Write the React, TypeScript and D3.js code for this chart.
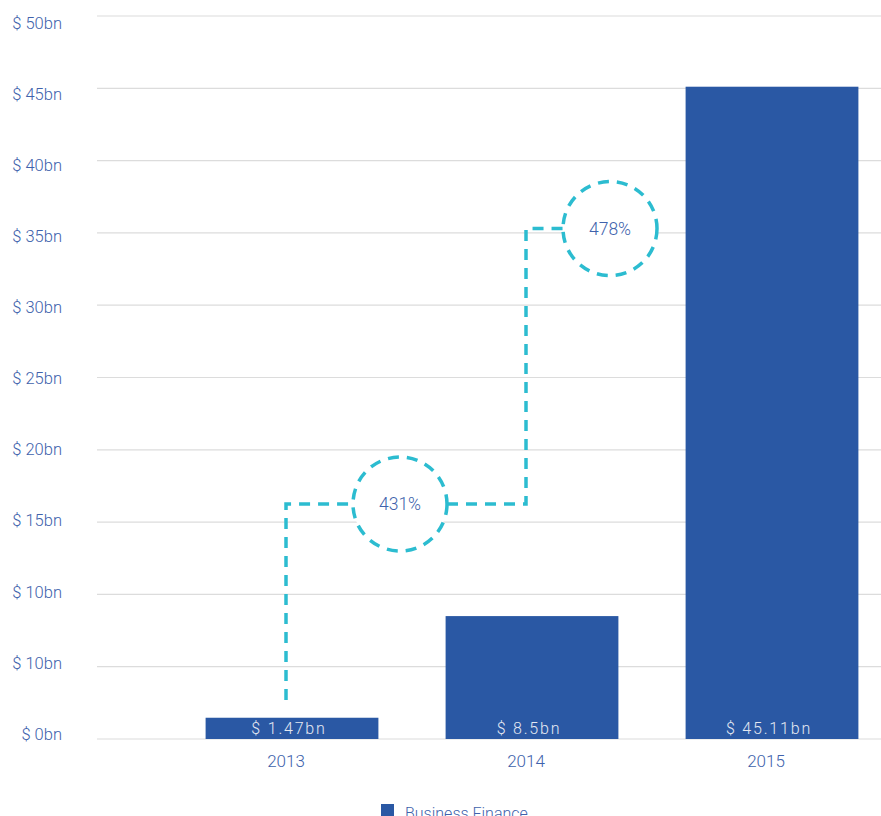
import React from "react";
import * as d3 from "d3";

const categories = ["2013", "2014", "2015"];
const values = [1.47, 8.5, 45.11];
const barLabels = ["$ 1.47bn", "$ 8.5bn", "$ 45.11bn"];
const yTicks = [0, 5, 10, 15, 20, 25, 30, 35, 40, 45, 50];
const yTickLabels = ["$ 0bn", "$ 10bn", "$ 10bn", "$ 15bn", "$ 20bn", "$ 25bn", "$ 30bn", "$ 35bn", "$ 40bn", "$ 45bn", "$ 50bn"];
const growthLabels = ["431%", "478%"];
const growthLevels = [16.25, 35.3];
const connectorStart = 2.7;
const circlePos = [0.475, 0.35]; // fraction between category centers
const legendLabel = "Business Finance";

const W = 881, H = 816;
const BAR = "#2a58a4";
const TEXT = "#4062ac";
const CYAN = "#2cbcd0";
const FONT = "Roboto, 'Noto Sans', sans-serif";

export default function App() {
  const x = d3.scaleBand<string>().domain(categories).range([172, 892]).paddingInner(0.28).paddingOuter(0.14);
  const y = d3.scaleLinear().domain([0, 50]).range([739, 16]);
  const yLab = d3.scaleLinear().domain([0, 50]).range([734, 23]);
  const bw = x.bandwidth();
  const catCenter = (c: string) => (x(c) as number) + bw / 2 - 6;
  const R = 47;

  const c0 = catCenter(categories[0]);
  const c1 = catCenter(categories[1]);
  const c2 = catCenter(categories[2]);
  const cx1 = c0 + (c1 - c0) * circlePos[0];
  const cx2 = c1 + (c2 - c1) * circlePos[1];
  const ly1 = y(growthLevels[0]);
  const ly2 = y(growthLevels[1]);

  const path1 = d3.path();
  path1.moveTo(c0, y(connectorStart));
  path1.lineTo(c0, ly1);
  path1.lineTo(cx1 - R, ly1);
  const path2 = d3.path();
  path2.moveTo(cx1 + R, ly1);
  path2.lineTo(c1, ly1);
  path2.lineTo(c1, ly2);
  path2.lineTo(cx2 - R, ly2);

  const dash = { stroke: CYAN, strokeWidth: 3.5, fill: "none", strokeDasharray: "11 8" };

  return (
    <div style={{ position: "absolute", left: 0, top: 0, width: W, height: H, overflow: "hidden", background: "#fff" }}>
      <svg width={W} height={H} style={{ display: "block", fontFamily: FONT, fontWeight: 300 }}>
        {yTicks.map((t) => (
          <line key={"g" + t} x1={97} x2={W} y1={y(t)} y2={y(t)} stroke="#dcdcdc" strokeWidth={1.2} />
        ))}
        {yTicks.map((t, i) => (
          <text key={"l" + t} x={62} y={yLab(t)} dy="0.35em" textAnchor="end" fill={TEXT} fontSize={16.5}>
            {yTickLabels[i]}
          </text>
        ))}
        {categories.map((c, i) => (
          <rect key={c} x={x(c)} y={y(values[i])} width={bw} height={y(0) - y(values[i])} fill={BAR} />
        ))}
        {categories.map((c, i) => (
          <text key={"bl" + c} x={(x(c) as number) + bw / 2 - 3} y={y(0) - 5} textAnchor="middle" fill="#e4e8f2" fontSize={16} letterSpacing={1.8}>
            {barLabels[i]}
          </text>
        ))}
        {categories.map((c) => (
          <text key={"xl" + c} x={catCenter(c)} y={767} textAnchor="middle" fill={TEXT} fontSize={17}>
            {c}
          </text>
        ))}
        <path d={path1.toString()} {...dash} />
        <path d={path2.toString()} {...dash} />
        {[cx1, cx2].map((cx, i) => (
          <g key={"c" + i}>
            <circle cx={cx} cy={i === 0 ? ly1 : ly2} r={R} {...dash} fill="#fff" />
            <text x={cx} y={i === 0 ? ly1 : ly2} dy="0.35em" textAnchor="middle" fill={TEXT} fontSize={17.5}>
              {growthLabels[i]}
            </text>
          </g>
        ))}
        <rect x={381} y={804} width={13} height={12} fill={BAR} />
        <text x={405} y={819} fill={TEXT} fontSize={16}>{legendLabel}</text>
      </svg>
    </div>
  );
}
